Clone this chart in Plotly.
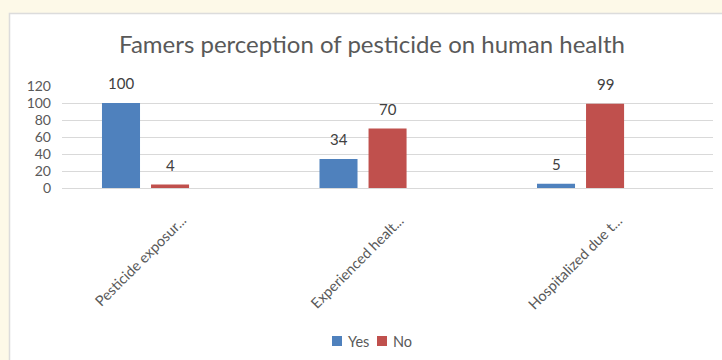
import plotly.graph_objects as go

categories = ["Pesticide exposur...", "Experienced healt...", "Hospitalized due t..."]
series_names = ["Yes", "No"]
yes_values = [100, 34, 5]
no_values = [4, 70, 99]
series_colors = ["#4F81BD", "#C0504D"]
y_ticks = [0, 20, 40, 60, 80, 100, 120]
title_text = "Famers perception of pesticide on human health"

FONT = "Lato, 'Open Sans', sans-serif"
W, H = 722, 360
L, R, T, B = 62, 9, 86, 172
PW, PH = W - L - R, H - T - B

def px_x(p):
    return (p - L) / PW

def px_y(p):
    return (H - B - p) / PH

fig = go.Figure()
all_values = [yes_values, no_values]
for name, vals, col in zip(series_names, all_values, series_colors):
    fig.add_trace(go.Bar(x=categories, y=vals, name=name, marker=dict(color=col, line=dict(width=0)),
                         hoverinfo="x+y+name", showlegend=False))

annotations = []
shifts = [-24.5, 24.5]
for vals, sh in zip(all_values, shifts):
    for c, v in zip(categories, vals):
        annotations.append(dict(x=c, y=v, xref="x", yref="y", text=str(v), showarrow=False,
                                xshift=sh, yshift=20, yanchor="middle",
                                font=dict(family=FONT, size=15, color="#404040")))
for c in categories:
    annotations.append(dict(x=c, y=0, xref="x", yref="y", text=c, showarrow=False,
                            textangle=-45, xanchor="right", yanchor="top",
                            xshift=47, yshift=-21,
                            font=dict(family=FONT, size=14.5, color="#595959")))

# manual legend (series names and colours from the lists above)
shapes = [dict(type="rect", xref="paper", yref="paper", layer="below",
               x0=px_x(9.5), x1=px_x(740), y0=px_y(380), y1=px_y(13.5),
               fillcolor="#FFFFFF", line=dict(color="#DCDCDC", width=1.5))]
legend_sq_left = [332, 377]
for name, col, x0 in zip(series_names, series_colors, legend_sq_left):
    shapes.append(dict(type="rect", xref="paper", yref="paper",
                       x0=px_x(x0), x1=px_x(x0 + 10), y0=px_y(346), y1=px_y(336),
                       fillcolor=col, line=dict(width=0)))
    annotations.append(dict(x=px_x(x0 + 14), y=px_y(341), xref="paper", yref="paper",
                            text=name, showarrow=False, xanchor="left", yanchor="middle",
                            font=dict(family=FONT, size=14.5, color="#595959")))

fig.update_layout(
    width=W, height=H,
    margin=dict(l=L, r=R, t=T, b=B, pad=0),
    paper_bgcolor="#FDF9E8",
    plot_bgcolor="#FFFFFF",
    font=dict(family=FONT, color="#595959"),
    title=dict(text=title_text, x=372 / W, xref="container", xanchor="center",
               y=1 - 45 / H, yref="container", yanchor="middle",
               font=dict(family=FONT, size=24, color="#595959")),
    barmode="group", bargap=0.549, bargroupgap=0.2245,
    showlegend=False,
    annotations=annotations,
    shapes=shapes,
)
fig.update_xaxes(range=[-0.384, 2.609], showticklabels=False, showgrid=False, zeroline=False,
                 showline=False, ticks="", fixedrange=True)
fig.update_yaxes(range=[0, 120], tickvals=y_ticks, showgrid=True, gridcolor="#D9D9D9", gridwidth=1,
                 zeroline=True, zerolinecolor="#D9D9D9", zerolinewidth=1, showline=False,
                 ticks="", ticklabelstandoff=10, tickfont=dict(family=FONT, size=14, color="#595959"),
                 fixedrange=True)

fig.write_html("out.html", config={"displayModeBar": False})
